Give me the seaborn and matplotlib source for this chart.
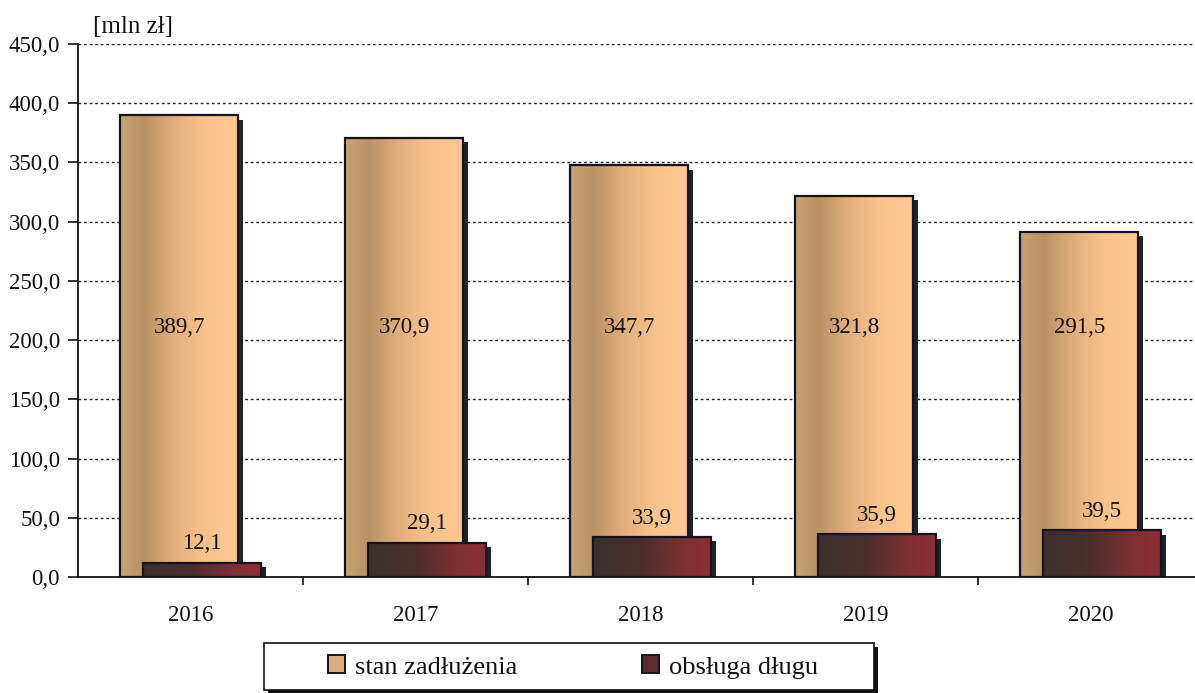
import numpy as np
import pandas as pd
import matplotlib
matplotlib.use("Agg")
import matplotlib.pyplot as plt
import matplotlib.patheffects as pe
from matplotlib.colors import LinearSegmentedColormap
from matplotlib.patches import Patch, Rectangle
from matplotlib.ticker import FuncFormatter, FixedLocator
import seaborn as sns

# ---- data ----
years = ["2016", "2017", "2018", "2019", "2020"]
stan_zadluzenia = [389.7, 370.9, 347.7, 321.8, 291.5]
obsluga_dlugu = [12.1, 29.1, 33.9, 35.9, 39.5]
series_names = ["stan zadłużenia", "obsługa długu"]
unit_label = "[mln zł]"

sns.set_theme(style="white")
plt.rcParams["font.family"] = ["Liberation Serif", "DejaVu Serif"]

FS = 16.5
fig = plt.figure(figsize=(11.95, 6.93), dpi=100)
ax = fig.add_axes([78 / 1195, 1 - 577 / 693, (1203 - 78) / 1195, (577 - 44) / 693])

df = pd.DataFrame({"rok": years, "stan": stan_zadluzenia, "obsluga": obsluga_dlugu})

orange_cmap = LinearSegmentedColormap.from_list(
    "or", [(0.0, "#C8A272"), (0.2, "#BA9263"), (0.45, "#E2AE7C"), (0.7, "#F8C28B"), (1.0, "#FFC893")])
dark_cmap = LinearSegmentedColormap.from_list(
    "dk", [(0.0, "#3B302E"), (0.4, "#4A2E2C"), (0.75, "#7E2E31"), (1.0, "#8C3036")])

BW = 0.525
OFF = 0.05
shadow = [pe.SimplePatchShadow(offset=(3.6, -3.2), shadow_rgbFace="#1d2626", alpha=1.0), pe.Normal()]


def draw_series(col, offset, cmap, z):
    n0 = len(ax.patches)
    sns.barplot(data=df, x="rok", y=col, ax=ax, width=BW, color="#888888",
                saturation=1, errorbar=None, zorder=z)
    new = ax.patches[n0:]
    grad = np.linspace(0, 1, 256).reshape(1, -1)
    for p in new:
        p.set_x(p.get_x() + offset)
        p.set_edgecolor("none")
        p.set_path_effects(shadow)
        p.set_zorder(z)
        x0, w, h = p.get_x(), p.get_width(), p.get_height()
        im = ax.imshow(grad, cmap=cmap, aspect="auto", extent=(x0, x0 + w, 0, h),
                       zorder=z + 0.1, interpolation="bicubic")
        im.set_clip_path(p)
        ax.add_patch(Rectangle((x0, 0), w, h, facecolor="none",
                               edgecolor="#14121e", linewidth=1.6, zorder=z + 0.2))
    return new


bars_a = draw_series("stan", -OFF, orange_cmap, 2)
bars_b = draw_series("obsluga", OFF, dark_cmap, 3)

# value labels
for p, v in zip(bars_a, stan_zadluzenia):
    ax.text(p.get_x() + p.get_width() / 2, 211, f"{v:.1f}".replace(".", ","),
            ha="center", va="center", fontsize=FS, color="#111111", zorder=5)
for p, v in zip(bars_b, obsluga_dlugu):
    ax.annotate(f"{v:.1f}".replace(".", ","), (p.get_x() + p.get_width() / 2, v),
                xytext=(0, 6), textcoords="offset points", ha="center", va="bottom",
                fontsize=FS, color="#111111", zorder=5)

# axes styling
ax.set_xlim(-0.5, 4.5)
ax.set_ylim(0, 450)
ax.set_yticks(np.arange(0, 451, 50))
ax.yaxis.set_major_formatter(FuncFormatter(lambda v, _: f"{v:.1f}".replace(".", ",")))
ax.set_xlabel("")
ax.set_ylabel("")
ax.grid(False)
for yv in np.arange(50, 451, 50):
    ax.axhline(yv, color="#222222", linewidth=1.0, linestyle=(0, (2, 2)), zorder=1)
for s in ["top", "right"]:
    ax.spines[s].set_visible(False)
for s in ["left", "bottom"]:
    ax.spines[s].set_color("#111111")
    ax.spines[s].set_linewidth(1.3)
    ax.spines[s].set_zorder(6)
ax.tick_params(axis="y", direction="out", length=7, width=1.2, color="#111111",
               labelsize=FS, pad=6, left=True)
ax.tick_params(axis="x", which="major", length=0, labelsize=FS, pad=20)
ax.xaxis.set_minor_locator(FixedLocator([0.5, 1.5, 2.5, 3.5]))
ax.tick_params(axis="x", which="minor", direction="out", length=6, width=1.2,
               color="#111111", bottom=True)
for lab in ax.get_xticklabels() + ax.get_yticklabels():
    lab.set_color("#111111")

fig.text(93 / 1195, 1 - 27 / 693, unit_label, fontsize=18, ha="left", va="center",
         color="#111111")

# legend frame with shadow
frame = Rectangle((264 / 1195, 1 - 690 / 693), 610 / 1195, 47 / 693,
                  transform=fig.transFigure, facecolor="white", edgecolor="#111111",
                  linewidth=1.2, zorder=1,
                  path_effects=[pe.SimplePatchShadow(offset=(3, -3), shadow_rgbFace="#111111", alpha=1.0),
                                pe.Normal()])
fig.add_artist(frame)

handles = [Patch(facecolor="#E0AE7A", edgecolor="#14121e", linewidth=1.4),
           Patch(facecolor="#5A2E2E", edgecolor="#14121e", linewidth=1.4)]
leg = fig.legend(handles, series_names, loc="center", bbox_to_anchor=(573 / 1195, 1 - 667 / 693),
                 ncol=2, fontsize=19, frameon=False,
                 handlelength=0.65, handleheight=0.65, handletextpad=0.38,
                 columnspacing=4.7, borderpad=0.2, borderaxespad=0)
leg.set_zorder(2)
for t in leg.get_texts():
    t.set_color("#111111")

fig.savefig("out.png", dpi=100)
